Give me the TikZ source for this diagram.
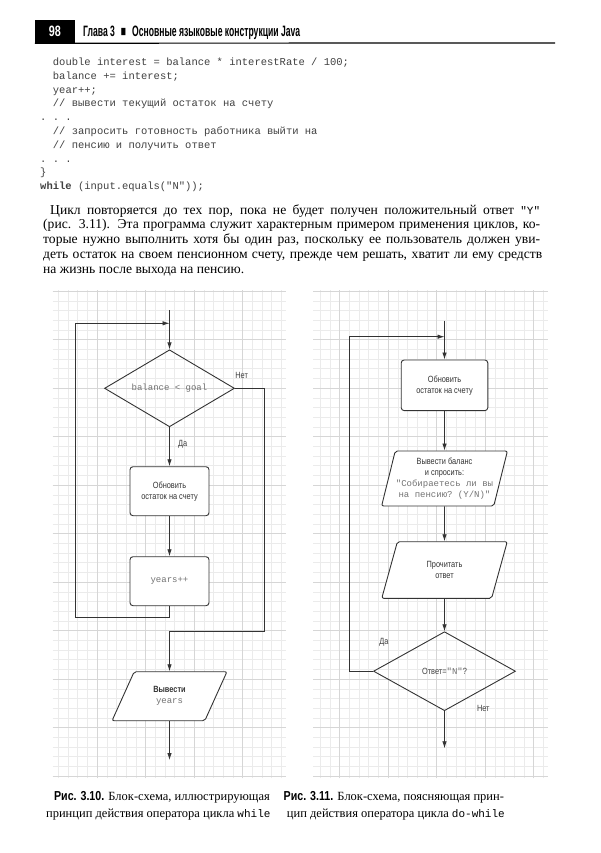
\documentclass[tikz,border=0pt]{standalone}
\usepackage{fontspec}
\usepackage{graphicx}
\setmainfont{Liberation Serif}
\setmonofont{Liberation Mono}
\newfontfamily\narrowsans[FakeStretch=0.82]{Liberation Sans}
\newfontfamily\headsans[FakeStretch=0.72]{Liberation Sans}
\usetikzlibrary{shapes.geometric, arrows.meta, positioning, calc}

\newcommand{\flowcode}[1]{{\ttfamily\color{black!55}#1}}

\begin{document}
\begin{tikzpicture}[
    x=1pt, y=-1pt,
    every node/.style={inner sep=0pt},
    gridminor/.style={draw=black!8, line width=0.4pt},
    gridmajor/.style={draw=black!16, line width=0.5pt},
    proc/.style={rectangle, draw=black!80, line width=0.9pt, rounded corners=3pt, fill=white, align=center, minimum width=79pt, minimum height=49pt, text=black!80, font=\narrowsans\fontsize{9}{11}\selectfont},
    cond/.style={diamond, draw=black!80, line width=0.9pt, aspect=1.7, align=center, text=black!75, font=\narrowsans\fontsize{9}{11}\selectfont},
    io/.style={trapezium, trapezium stretches=true, draw=black!80, line width=0.9pt, rounded corners=2pt, fill=white, align=center, text=black!80, font=\narrowsans\fontsize{9}{11}\selectfont},
    flow/.style={-{Latex[length=7pt,width=4.5pt]}, line width=0.8pt, draw=black!80},
    lbl/.style={text=black!75, font=\narrowsans\fontsize{9}{11}\selectfont},
    code/.style={anchor=base west, text=black!75, font=\ttfamily\fontsize{10.5}{13.8}\selectfont},
    body/.style={anchor=base west, font=\fontsize{13.6}{15}\selectfont},
    capt/.style={anchor=base, font=\fontsize{12.5}{17}\selectfont}
]
\useasboundingbox (0,853) rectangle (600,0);

% ================= PAGE HEADER =================
\node[fill=black, text=white, minimum width=40pt, minimum height=23pt, font=\headsans\bfseries\fontsize{15}{15}\selectfont] (pgnum) at (55,31.5) {98};
\node[anchor=base west] (head) at (83,37) {\resizebox{217pt}{10.5pt}{\headsans\bfseries Глава 3\enspace■\enspace Основные языковые конструкции Java}};
\draw[line width=1.2pt] (pgnum.south west) -- (555,43);

% ================= CODE =================
\node[code] (c1) at (52.7,65.5) {double interest = balance * interestRate / 100;};
\node[code] (c2) at (52.7,79.3) {balance += interest;};
\node[code] (c3) at (52.7,93.1) {year++;};
\node[code] (c4) at (52.7,106.9) {// вывести текущий остаток на счету};
\node[code] (c5) at (40,120.7) {. . .};
\node[code] (c6) at (52.7,134.5) {// запросить готовность работника выйти на};
\node[code] (c7) at (52.7,148.3) {// пенсию и получить ответ};
\node[code] (c8) at (40,162.1) {. . .};
\node[code] (c9) at (40,175.9) {\}};
\node[code] (c10) at (40,189.7) {\textbf{while} (input.equals("N"));};

% ================= PARAGRAPH =================
\node[body] (p1) at (50,214) {\makebox[490pt][s]{Цикл повторяется до тех пор, пока не будет получен положительный ответ {\ttfamily\fontsize{11}{15}\selectfont "Y"}}};
\node[body] (p2) at (43,228.8) {\makebox[497pt][s]{(рис. 3.11). Эта программа служит характерным примером применения циклов, ко-}};
\node[body] (p3) at (43,243.6) {\makebox[497pt][s]{торые нужно выполнить хотя бы один раз, поскольку ее пользователь должен уви-}};
\node[body] (p4) at (43,258.4) {\makebox[499pt][s]{деть остаток на своем пенсионном счету, прежде чем решать, хватит ли ему средств}};
\node[body] (p5) at (43,273.2) {на жизнь после выхода на пенсию.};

% ================= GRID PANELS =================
\draw[gridminor, step=9.7pt] (52.7,778.3) grid (286,290);
\draw[gridmajor, step=48.5pt] (52.7,778.3) grid (286,290);
\draw[gridminor, step=9.7pt] (313.3,778.3) grid (548.3,290);
\draw[gridmajor, step=48.5pt] (313.3,778.3) grid (548.3,290);

% ================= WHILE LOOP (Fig. 3.10) =================
\node[cond, minimum width=130pt, minimum height=77pt] (lcond) at (169.5,388.3) {\flowcode{balance < goal}};
\node[proc] (lupd) at (169.5,491.2) {Обновить\\остаток на счету};
\node[proc] (lstep) at (169.5,581.2) {\flowcode{years++}};
\node[io, trapezium left angle=62, trapezium right angle=118, minimum width=115pt, minimum height=49pt] (lout) at (169.5,696.2) {\textbf{Вывести}\\\flowcode{years}};
\coordinate (lin) at (169.5,310);
\coordinate (ljoin) at (169.5,323.3);
\coordinate (lback) at (75,617.3);
\coordinate (lno) at (264,631.7);
\coordinate (lend) at (169.5,760);
\node[lbl] (lnolbl) at (241.7,375) {Нет};
\node[lbl] (lyes) at (182.7,444) {Да};

\draw[flow] (lin) -- (lcond);
\draw[flow] (lcond) -- (lupd);
\draw[flow] (lupd) -- (lstep);
\draw[flow] (lstep.south) |- (lback) |- (ljoin);
\draw[flow] (lcond.east) -| (lno) -| (lout.north);
\draw[flow] (lout) -- (lend);

% ================= DO-WHILE LOOP (Fig. 3.11) =================
\node[proc, minimum width=86.6pt, minimum height=50.7pt] (rupd) at (444.5,385.3) {Обновить\\остаток на счету};
\node[io, trapezium left angle=72, trapezium right angle=108, minimum width=126pt, minimum height=55pt] (rask) at (444.5,478.5) {Вывести баланс\\и спросить:\\\flowcode{"Собираетесь ли вы}\\\flowcode{на пенсию? (Y/N)"}};
\node[io, trapezium left angle=71, trapezium right angle=109, minimum width=126pt, minimum height=56.6pt] (rread) at (444.5,570) {Прочитать\\ответ};
\node[cond, minimum width=142pt, minimum height=79pt] (rcond) at (444.5,671.2) {Ответ=\flowcode{"N"}?};
\coordinate (rin) at (444.5,320.7);
\coordinate (rjoin) at (444.5,336.7);
\coordinate (rback) at (349,336.7);
\coordinate (rend) at (444.5,748.3);
\node[lbl] (ryes) at (384,642.7) {Да};
\node[lbl] (rno) at (483.3,708.3) {Нет};

\draw[flow] (rin) -- (rupd);
\draw[flow] (rupd) -- (rask);
\draw[flow] (rask) -- (rread);
\draw[flow] (rread) -- (rcond);
\draw[flow] (rcond.west) -| (rback) -- (rjoin);
\draw[flow] (rcond) -- (rend);

% ================= CAPTIONS =================
\node[capt] (cap1a) at (162,800.5) {{\narrowsans\bfseries\fontsize{13}{17}\selectfont Рис. 3.10.} Блок-схема, иллюстрирующая};
\node[capt] (cap1b) at (158.3,817.5) {принцип действия оператора цикла {\ttfamily\fontsize{11}{17}\selectfont while}};
\node[capt, anchor=base west] (cap2a) at (283.5,800.5) {{\narrowsans\bfseries\fontsize{13}{17}\selectfont Рис. 3.11.} Блок-схема, поясняющая прин-};
\node[capt, anchor=base west] (cap2b) at (286.7,817.5) {цип действия оператора цикла {\ttfamily\fontsize{11}{17}\selectfont do-while}};

\end{tikzpicture}
\end{document}
